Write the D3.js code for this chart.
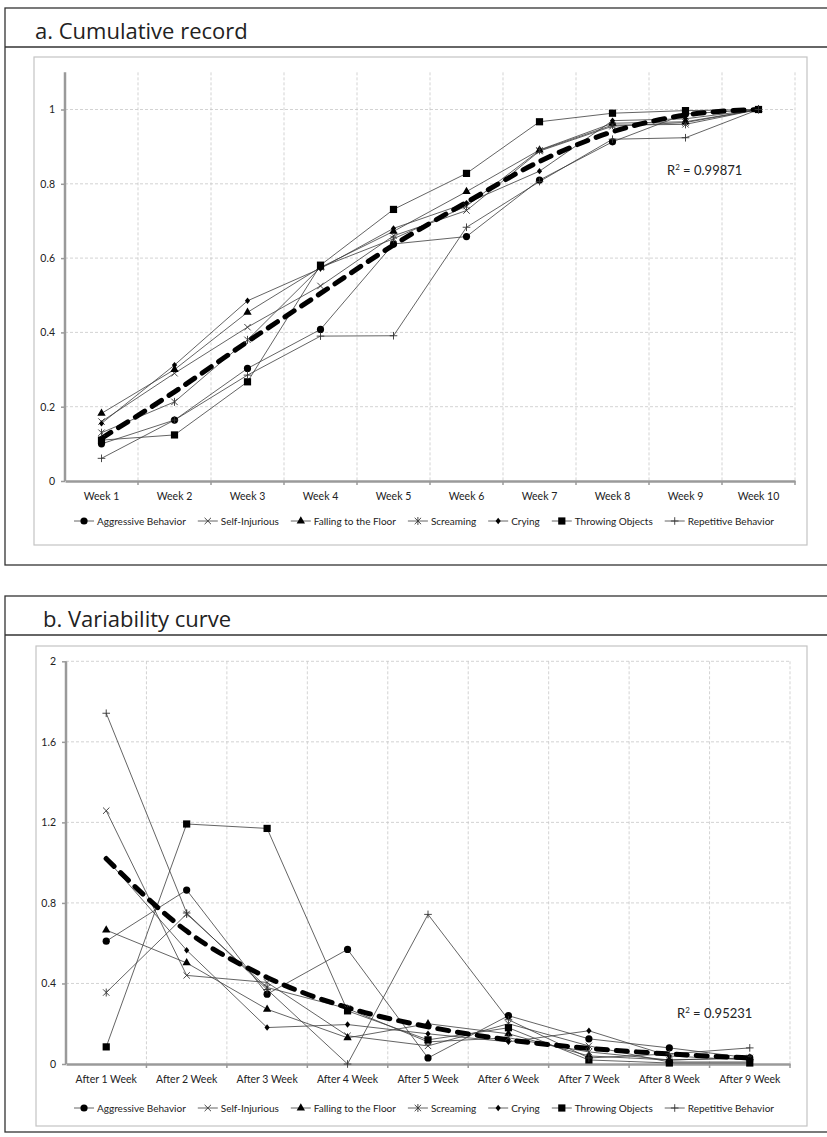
<!DOCTYPE html>
<html>
<head>
<meta charset="utf-8">
<script src="https://cdn.jsdelivr.net/npm/d3@7"></script>
<style>
  body { margin: 0; background: #fff; }
  svg text { font-family: Lato, "Open Sans", sans-serif; fill: #222; }
</style>
</head>
<body>
<div id="chart"></div>
<script>
// ---- data ----
var weeks = ["Week 1", "Week 2", "Week 3", "Week 4", "Week 5", "Week 6", "Week 7", "Week 8", "Week 9", "Week 10"];
var afterWeeks = ["After 1 Week", "After 2 Week", "After 3 Week", "After 4 Week", "After 5 Week",
                  "After 6 Week", "After 7 Week", "After 8 Week", "After 9 Week"];
var behaviors = ["Aggressive Behavior", "Self-Injurious", "Falling to the Floor", "Screaming",
                 "Crying", "Throwing Objects", "Repetitive Behavior"];
var markers = ["circle", "x", "triangle", "asterisk", "diamond", "square", "plus"];

// a. cumulative record
var cumAggressive = [0.10, 0.164, 0.303, 0.408, 0.638, 0.658, 0.81, 0.913, 0.988, 1.0];
var cumSelfInjurious = [0.16, 0.29, 0.414, 0.525, 0.66, 0.728, 0.888, 0.955, 0.965, 1.0];
var cumFalling = [0.182, 0.30, 0.454, 0.575, 0.672, 0.779, 0.891, 0.963, 0.967, 1.0];
var cumScreaming = [0.13, 0.213, 0.38, 0.575, 0.652, 0.74, 0.89, 0.958, 0.96, 1.0];
var cumCrying = [0.155, 0.312, 0.485, 0.572, 0.68, 0.748, 0.834, 0.97, 0.975, 1.0];
var cumThrowing = [0.11, 0.124, 0.267, 0.581, 0.731, 0.828, 0.967, 0.99, 0.997, 1.0];
var cumRepetitive = [0.061, 0.164, 0.285, 0.39, 0.391, 0.683, 0.806, 0.92, 0.924, 1.0];
var cumTrend = [0.115, 0.24, 0.375, 0.505, 0.635, 0.75, 0.86, 0.94, 0.985, 1.0];
var cumTicks = [0, 0.2, 0.4, 0.6, 0.8, 1];

// b. variability curve
var varAggressive = [0.61, 0.864, 0.347, 0.569, 0.03, 0.24, 0.125, 0.08, 0.03];
var varSelfInjurious = [1.258, 0.44, 0.405, 0.14, 0.09, 0.20, 0.09, 0.01, 0.01];
var varFalling = [0.665, 0.502, 0.272, 0.13, 0.20, 0.15, 0.04, 0.02, 0.03];
var varScreaming = [0.355, 0.745, 0.38, 0.275, 0.11, 0.13, 0.06, 0.02, 0.03];
var varCrying = [1.02, 0.565, 0.181, 0.196, 0.15, 0.11, 0.165, 0.04, 0.02];
var varThrowing = [0.085, 1.192, 1.17, 0.264, 0.12, 0.18, 0.02, 0.005, 0.005];
var varRepetitive = [1.742, 0.75, 0.37, 0.0, 0.743, 0.22, 0.03, 0.05, 0.08];
var varTrend = [1.02, 0.66, 0.43, 0.28, 0.185, 0.12, 0.078, 0.05, 0.03];
var varTicks = [0, 0.4, 0.8, 1.2, 1.6, 2];

var W = 827, H = 1137;
var svg = d3.select("#chart").append("svg").attr("width", W).attr("height", H);

// marker drawing: filled shapes, line shapes as paths
function drawMarker(g, type, x, y) {
    if (type == "circle") {
        g.append("circle").attr("cx", x).attr("cy", y).attr("r", 3.6).attr("fill", "#000");
    } else if (type == "square") {
        g.append("rect").attr("x", x - 3.6).attr("y", y - 3.6).attr("width", 7.2).attr("height", 7.2).attr("fill", "#000");
    } else if (type == "triangle") {
        g.append("path").attr("d", d3.symbol(d3.symbolTriangle, 30)()).attr("transform", `translate(${x},${y})`).attr("fill", "#000");
    } else if (type == "diamond") {
        g.append("path").attr("d", "M0,-3.2L2.6,0L0,3.2L-2.6,0Z").attr("transform", `translate(${x},${y})`).attr("fill", "#000");
    } else {
        var s = 3.2, d = "";
        if (type == "x" || type == "asterisk") d += `M${-s},${-s}L${s},${s}M${-s},${s}L${s},${-s}`;
        if (type == "asterisk") d += `M0,${-s - 0.8}L0,${s + 0.8}`;
        if (type == "plus") d += `M${-s - 0.6},0L${s + 0.6},0M0,${-s - 0.6}L0,${s + 0.6}`;
        g.append("path").attr("d", d).attr("transform", `translate(${x},${y})`)
            .attr("fill", "none").attr("stroke", "#333").attr("stroke-width", 0.9);
    }
}

function drawPanel(opt) {
    var g = svg.append("g");

    // outer box + header
    g.append("rect").attr("x", 5).attr("y", opt.top).attr("width", W + 10).attr("height", opt.boxH)
        .attr("fill", "none").attr("stroke", "#333").attr("stroke-width", 1.3);
    g.append("line").attr("x1", 5).attr("x2", W).attr("y1", opt.top + 39).attr("y2", opt.top + 39)
        .attr("stroke", "#333").attr("stroke-width", 1.3);
    g.append("text").attr("x", opt.titleX).attr("y", opt.top + 31)
        .style("font-family", "'Open Sans', sans-serif").style("font-size", "22px")
        .text(opt.title);

    // chart frame
    g.append("rect").attr("x", opt.frame[0]).attr("y", opt.frame[1]).attr("width", opt.frame[2]).attr("height", opt.frame[3])
        .attr("fill", "none").attr("stroke", "#c4c4c4").attr("stroke-width", 1.2);

    var x = d3.scaleBand().domain(opt.cats).range([opt.left, opt.right]);
    var y = d3.scaleLinear().domain([0, opt.ymax]).range([opt.bottom, opt.bottom - (opt.bottom - opt.tickTop) * opt.ymax / opt.ticks[opt.ticks.length - 1]]);

    // gridlines
    var grid = g.append("g").attr("stroke", "#c8c8c8").attr("stroke-width", 0.8).attr("stroke-dasharray", "3,2");
    grid.selectAll(".hg").data(opt.ticks.slice(1)).enter().append("line")
        .attr("x1", opt.left).attr("x2", opt.right).attr("y1", d => y(d)).attr("y2", d => y(d));
    grid.selectAll(".vg").data(opt.cats).enter().append("line")
        .attr("x1", d => x(d) + x.bandwidth()).attr("x2", d => x(d) + x.bandwidth())
        .attr("y1", y(opt.ymax)).attr("y2", opt.bottom);

    // axes
    var yAxis = d3.axisLeft(y).tickValues(opt.ticks).tickSize(4).tickPadding(6).tickFormat(d => d);
    var ya = g.append("g").attr("transform", `translate(${opt.left},0)`).call(yAxis);
    var xAxis = d3.axisBottom(x).tickSize(0).tickPadding(12);
    var xa = g.append("g").attr("transform", `translate(0,${opt.bottom})`).call(xAxis);
    [ya, xa].forEach(a => {
        a.select(".domain").attr("stroke", "#9a9a9a").attr("stroke-width", 2.5);
        a.selectAll(".tick line").attr("stroke", "#9a9a9a").attr("stroke-width", 1.5);
        a.selectAll("text").style("font-family", "Lato, sans-serif").style("font-size", "10.5px").attr("fill", "#222");
    });
    ya.select(".domain").attr("d", `M0,${opt.bottom}V${y(opt.ymax)}`);
    // tick marks between categories on x
    xa.selectAll(".bt").data(opt.cats).enter().append("line")
        .attr("x1", d => x(d) + x.bandwidth()).attr("x2", d => x(d) + x.bandwidth())
        .attr("y1", 0).attr("y2", 4).attr("stroke", "#9a9a9a").attr("stroke-width", 1.5);

    // series lines
    var line = d3.line().x((d, i) => x(opt.cats[i]) + x.bandwidth() / 2).y(d => y(d));
    var series = g.append("g");
    opt.series.forEach(s => {
        series.append("path").attr("d", line(s)).attr("fill", "none")
            .attr("stroke", "#3c3c3c").attr("stroke-width", 0.8);
    });
    // trend line
    var trend = d3.line().x((d, i) => x(opt.cats[i]) + x.bandwidth() / 2).y(d => y(d)).curve(d3.curveMonotoneX);
    g.append("path").attr("d", trend(opt.trend)).attr("fill", "none").attr("stroke", "#000")
        .attr("stroke-width", 5).attr("stroke-dasharray", "11,9").attr("stroke-linecap", "round");
    // markers on top
    var mk = g.append("g");
    opt.series.forEach((s, k) => {
        s.forEach((v, i) => drawMarker(mk, markers[k], x(opt.cats[i]) + x.bandwidth() / 2, y(v)));
    });

    // R squared label
    var r = g.append("text").attr("x", opt.r2[0]).attr("y", opt.r2[1]).style("font-size", "13px").style("font-family", "Lato, sans-serif");
    r.append("tspan").text("R");
    r.append("tspan").attr("dy", -5).style("font-size", "8px").text("2");
    r.append("tspan").attr("dy", 5).text(" = " + opt.r2text);

    // legend
    var lg = g.append("g").attr("transform", `translate(0,${opt.legendY})`);
    var cx = 0;
    var items = [];
    behaviors.forEach((b, k) => {
        var it = lg.append("g");
        it.append("line").attr("x1", 0).attr("x2", 20).attr("stroke", "#3c3c3c").attr("stroke-width", 0.8);
        drawMarker(it, markers[k], 10, 0);
        var t = it.append("text").attr("x", 23).attr("y", 3.5).style("font-size", "10px").style("font-family", "Lato, sans-serif").text(b);
        items.push({g: it, w: 23 + t.node().getComputedTextLength()});
    });
    var total = d3.sum(items, d => d.w) + 12 * (items.length - 1);
    cx = opt.legendCenter - total / 2;
    items.forEach(it => { it.g.attr("transform", `translate(${cx},0)`); cx += it.w + 12; });
}

drawPanel({
    top: 8, boxH: 557, title: "a. Cumulative record", titleX: 35,
    frame: [34, 57, 773, 488],
    cats: weeks, left: 65, right: 795, bottom: 481, tickTop: 109.5, ymax: 1.1, ticks: cumTicks,
    series: [cumAggressive, cumSelfInjurious, cumFalling, cumScreaming, cumCrying, cumThrowing, cumRepetitive],
    trend: cumTrend, r2: [667, 175], r2text: "0.99871",
    legendY: 521, legendCenter: 424
});

drawPanel({
    top: 596, boxH: 536, title: "b. Variability curve", titleX: 43,
    frame: [36, 646, 771, 480],
    cats: afterWeeks, left: 66, right: 790, bottom: 1064, tickTop: 661.3, ymax: 2, ticks: varTicks,
    series: [varAggressive, varSelfInjurious, varFalling, varScreaming, varCrying, varThrowing, varRepetitive],
    trend: varTrend, r2: [677, 1018], r2text: "0.95231",
    legendY: 1108, legendCenter: 424
});
</script>
</body>
</html>
